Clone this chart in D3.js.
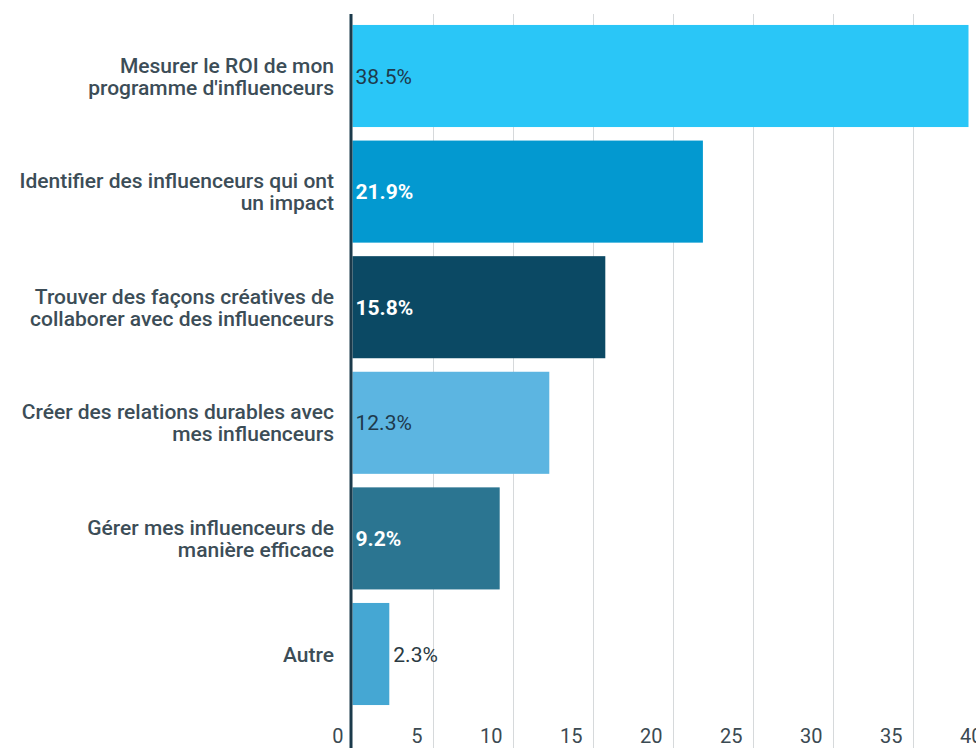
<!DOCTYPE html>
<html>
<head>
<meta charset="utf-8">
<script src="https://cdn.jsdelivr.net/npm/d3@7"></script>
<style>
  html, body { margin: 0; padding: 0; background: #ffffff; }
  svg { display: block; font-family: Roboto, "Noto Sans", sans-serif; }
</style>
</head>
<body>
<svg id="chart" width="976" height="748"></svg>
<script>
// Obstacles cités par les marketeurs (pourcentage des réponses)
const categories = [
  ["Mesurer le ROI de mon", "programme d'influenceurs"],
  ["Identifier des influenceurs qui ont", "un impact"],
  ["Trouver des façons créatives de", "collaborer avec des influenceurs"],
  ["Créer des relations durables avec", "mes influenceurs"],
  ["Gérer mes influenceurs de", "manière efficace"],
  ["Autre"]
];
const values = [38.5, 21.9, 15.8, 12.3, 9.2, 2.3];
const barColors = ["#2ac6f7", "#0399d0", "#0b4964", "#5cb5e1", "#2b7591", "#45a7d3"];
const labelColors = ["#1e3a4c", "#ffffff", "#ffffff", "#1e3a4c", "#ffffff", "#2a3a42"];
const labelWeights = [400, 700, 700, 400, 700, 400];
const ticks = [0, 5, 10, 15, 20, 25, 30, 35, 40];

const svg = d3.select("#chart");
const W = 976, H = 748;

const x = d3.scaleLinear().domain([0, 40]).range([352.5, 992.5]);
const idx = d3.range(values.length);
const y = d3.scaleBand().domain(idx).range([18.2, 711.8]).paddingInner(0.117).paddingOuter(0.0585);

// vertical gridlines
svg.append("g").selectAll("line")
  .data(ticks.filter(t => t > 0))
  .join("line")
  .attr("x1", d => Math.round(x(d)) + 0.5)
  .attr("x2", d => Math.round(x(d)) + 0.5)
  .attr("y1", 14).attr("y2", H)
  .attr("stroke", "#d6d9db").attr("stroke-width", 1);

// bars
svg.append("g").selectAll("rect")
  .data(idx)
  .join("rect")
  .attr("x", x(0))
  .attr("y", i => y(i))
  .attr("width", i => x(values[i]) - x(0))
  .attr("height", y.bandwidth())
  .attr("fill", i => barColors[i]);

// axis line
svg.append("line")
  .attr("x1", 351).attr("x2", 351)
  .attr("y1", 14).attr("y2", H)
  .attr("stroke", "#1b3a4b").attr("stroke-width", 3);

// tick labels
svg.append("g").selectAll("text")
  .data(ticks)
  .join("text")
  .attr("x", d => (d === 0 ? x(0) - 9 : x(d) - 10))
  .attr("y", 743)
  .attr("text-anchor", "end")
  .attr("font-size", 20)
  .attr("fill", "#3b4a52")
  .text(d => d);

// category labels
const cat = svg.append("g").selectAll("text")
  .data(idx)
  .join("text")
  .attr("text-anchor", "end")
  .attr("font-size", 21)
  .attr("font-weight", 500)
  .attr("fill", "#3c4d57")
  .attr("y", i => y(i) + y.bandwidth() / 2 + 7.5 - (categories[i].length - 1) * 11);
cat.selectAll("tspan")
  .data(i => categories[i])
  .join("tspan")
  .attr("x", 334)
  .attr("dy", (d, j) => j === 0 ? 0 : 22)
  .text(d => d);

// value labels
svg.append("g").selectAll("text")
  .data(idx)
  .join("text")
  .attr("x", i => {
    const inside = x(values[i]) - x(0) > 70;
    return inside ? x(0) + 3 : x(values[i]) + 4;
  })
  .attr("y", i => y(i) + y.bandwidth() / 2 + 7.5)
  .attr("font-size", 21)
  .attr("font-weight", i => labelWeights[i])
  .attr("fill", i => labelColors[i])
  .text(i => values[i].toFixed(1) + "%");
</script>
</body>
</html>
